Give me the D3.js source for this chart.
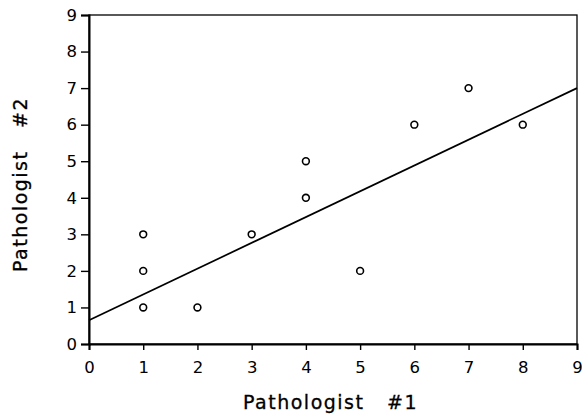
<!DOCTYPE html>
<html lang="en">
<head>
<meta charset="UTF-8">
<title>Pathologist agreement</title>
<style>
  body { margin: 0; background: #fff; }
  svg text { font-family: "DejaVu Sans", Verdana, sans-serif; fill: #000; }
</style>
</head>
<body>
<div id="chart"></div>
<script src="https://d3js.org/d3.v7.min.js"></script>
<script>
// scores given by each pathologist
const path1 = [1, 1, 1, 2, 3, 4, 4, 5, 6, 7, 8];
const path2 = [1, 2, 3, 1, 3, 4, 5, 2, 6, 7, 6];
// fitted line (value of #2 at #1 = 0 and at #1 = 9)
const fitX = [0, 9];
const fitY = [0.65, 7.0];
const ticks = [0, 1, 2, 3, 4, 5, 6, 7, 8, 9];

const width = 582, height = 419;
const margin = { top: 15, right: 5, bottom: 75, left: 89 };
const w = width - margin.left - margin.right;
const h = height - margin.top - margin.bottom;

const svg = d3.select("#chart").append("svg")
    .attr("width", width)
    .attr("height", height);

const g = svg.append("g")
    .attr("transform", `translate(${margin.left}, ${margin.top})`);

const x = d3.scaleLinear().domain([0, 9]).range([0, w]);
const y = d3.scaleLinear().domain([0, 9]).range([h, 0]);

// frame
g.append("rect")
    .attr("width", w).attr("height", h)
    .attr("fill", "none").attr("stroke", "#000").attr("stroke-width", 1.3);

const xAxis = g.append("g")
    .attr("transform", `translate(0, ${h})`)
    .call(d3.axisBottom(x).tickValues(ticks).tickSize(6).tickPadding(11).tickFormat(d3.format("d")));
const yAxis = g.append("g")
    .call(d3.axisLeft(y).tickValues(ticks).tickSize(8).tickPadding(4).tickFormat(d3.format("d")));

[xAxis, yAxis].forEach(a => {
    a.select(".domain").attr("stroke-width", 2);
    a.selectAll(".tick line").attr("stroke-width", 1.4);
    a.selectAll("text").style("font-size", "16.5px").style("font-family", "DejaVu Sans, sans-serif");
});

// regression line
g.append("line")
    .attr("x1", x(fitX[0])).attr("y1", y(fitY[0]))
    .attr("x2", x(fitX[1])).attr("y2", y(fitY[1]))
    .attr("stroke", "#000").attr("stroke-width", 1.7);

// points
g.selectAll("circle")
    .data(path1.map((d, i) => [d, path2[i]]))
    .enter()
    .append("circle")
    .attr("cx", d => x(d[0]))
    .attr("cy", d => y(d[1]))
    .attr("r", 3.4)
    .attr("fill", "#fff")
    .attr("stroke", "#000")
    .attr("stroke-width", 1.6);

// axis titles
svg.append("text")
    .attr("x", 243)
    .attr("y", 409)
    .style("font-size", "19px")
    .style("letter-spacing", "1.5px")
    .style("white-space", "pre")
    .attr("stroke", "#000").attr("stroke-width", 0.3)
    .text("Pathologist   #1");

svg.append("text")
    .attr("transform", `translate(27, 272) rotate(-90)`)
    .style("font-size", "19px")
    .style("letter-spacing", "1.5px")
    .style("white-space", "pre")
    .attr("stroke", "#000").attr("stroke-width", 0.3)
    .text("Pathologist   #2");
</script>
</body>
</html>
